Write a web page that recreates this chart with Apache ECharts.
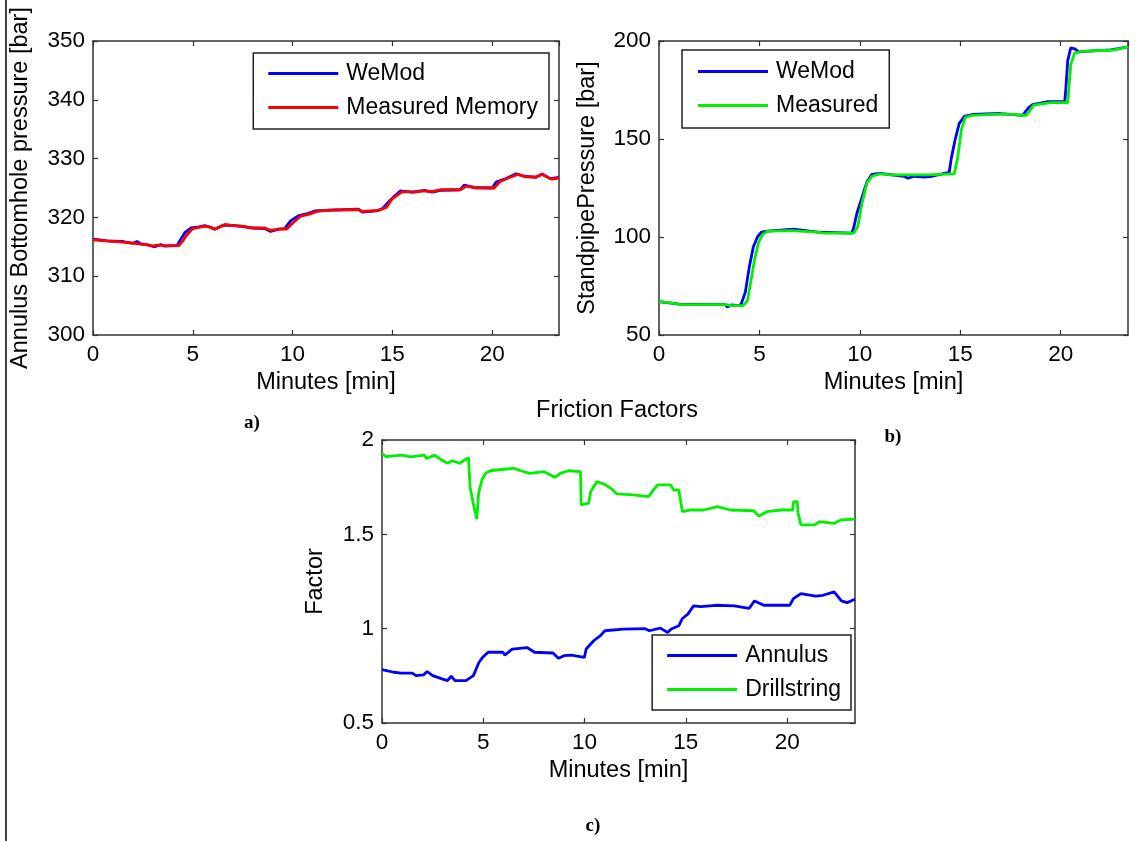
<!DOCTYPE html>
<html><head><meta charset="utf-8">
<script src="https://cdn.jsdelivr.net/npm/echarts@6/dist/echarts.min.js"></script>
<style>html,body{margin:0;padding:0;background:#fff}#c{width:1138px;height:841px}</style>
</head><body><div id="c"></div>
<script>
// ---------- data ([minutes, value]) ----------
const aWeMod = [[0,316.3],[0.7,316.0],[1.5,315.9],[2.0,315.6],[2.2,315.9],[2.4,315.5],[2.8,315.3],[3.1,315.0],[3.4,315.4],[3.6,315.1],[4.2,315.2],[4.4,316.3],[4.6,317.4],[4.9,318.2],[5.3,318.4],[5.6,318.6],[5.9,318.3],[6.1,318.0],[6.4,318.5],[6.7,318.7],[7.1,318.6],[7.6,318.4],[8.0,318.2],[8.6,318.1],[8.9,317.6],[9.3,318.0],[9.6,318.1],[9.9,319.4],[10.3,320.3],[10.8,320.7],[11.1,321.1],[11.6,321.2],[12.5,321.3],[13.3,321.4],[13.5,320.9],[14.2,321.1],[14.5,321.5],[14.8,322.6],[15.1,323.6],[15.4,324.5],[16.0,324.3],[16.6,324.6],[17.0,324.3],[17.4,324.6],[18.4,324.7],[18.6,325.5],[19.1,325.1],[20.0,325.0],[20.2,326.0],[20.7,326.6],[21.2,327.4],[21.6,327.0],[22.2,326.8],[22.5,327.4],[22.9,326.6],[23.35,326.8]];
const aMeasured = [[0,316.2],[0.7,316.0],[1.5,315.8],[2.1,315.6],[2.8,315.3],[3.0,315.1],[3.2,315.3],[3.6,315.2],[4.3,315.2],[4.5,316.0],[4.7,317.0],[5.0,318.1],[5.3,318.3],[5.6,318.5],[5.8,318.4],[6.1,318.0],[6.3,318.3],[6.6,318.8],[7.0,318.6],[7.5,318.5],[7.9,318.2],[8.6,318.2],[8.9,317.8],[9.3,318.0],[9.7,318.0],[10.0,319.0],[10.4,320.2],[10.9,320.6],[11.2,321.0],[11.6,321.2],[12.5,321.3],[13.3,321.3],[13.5,321.0],[14.3,321.2],[14.7,321.7],[15.0,323.2],[15.5,324.4],[16.1,324.3],[16.6,324.5],[17.0,324.4],[17.4,324.7],[18.4,324.7],[18.7,325.3],[19.2,325.0],[20.1,325.0],[20.4,326.1],[20.8,326.7],[21.3,327.3],[21.7,326.9],[22.2,326.9],[22.5,327.3],[23.0,326.5],[23.35,326.7]];

const bWeMod = [[0,67.0],[1.0,65.8],[3.3,65.5],[3.4,64.3],[3.6,65.3],[4.0,65.0],[4.1,66.0],[4.3,72.0],[4.5,85.0],[4.7,95.0],[4.9,100.0],[5.1,102.5],[5.4,103.0],[6.7,104.0],[7.9,102.5],[9.6,102.0],[9.7,105.0],[9.85,112.0],[10.1,120.0],[10.35,128.0],[10.6,132.0],[11.0,132.5],[12.2,131.0],[12.4,130.0],[12.7,131.0],[13.2,130.5],[13.6,131.0],[14.2,132.5],[14.45,133.0],[14.55,140.0],[14.75,150.0],[14.95,158.0],[15.2,161.5],[15.6,162.5],[17.0,163.0],[18.1,162.0],[18.4,166.0],[18.6,167.5],[19.3,169.0],[20.2,169.0],[20.25,175.0],[20.35,190.0],[20.5,196.5],[20.7,196.0],[20.9,194.5],[21.6,195.0],[22.5,195.5],[23.35,197.0]];
const bMeasured = [[0,67.0],[0.5,66.5],[1.1,65.5],[3.3,65.5],[3.6,65.0],[4.2,65.0],[4.4,67.5],[4.55,76.0],[4.75,88.0],[4.95,97.0],[5.15,101.2],[5.4,103.0],[6.6,103.3],[7.0,103.0],[7.9,102.5],[8.2,102.0],[9.7,102.0],[9.9,105.5],[10.1,117.0],[10.35,127.5],[10.6,131.0],[11.0,132.2],[11.6,131.7],[13.4,131.7],[14.0,132.0],[14.7,132.2],[14.88,141.0],[15.05,154.5],[15.25,161.0],[15.6,162.1],[17.1,162.8],[18.3,162.1],[18.65,167.3],[19.5,168.6],[20.35,168.6],[20.5,188.0],[20.7,194.0],[21.1,194.7],[22.6,195.4],[23.35,197.0]];

const cAnnulus = [[0,0.783],[0.58,0.769],[0.95,0.764],[1.5,0.764],[1.68,0.751],[2.05,0.755],[2.23,0.773],[2.5,0.751],[2.96,0.734],[3.23,0.725],[3.42,0.748],[3.6,0.725],[4.15,0.725],[4.51,0.751],[4.79,0.822],[4.97,0.848],[5.24,0.875],[5.97,0.875],[6.06,0.86],[6.43,0.892],[7.16,0.9],[7.53,0.875],[8.44,0.871],[8.71,0.843],[8.99,0.857],[9.35,0.86],[9.99,0.848],[10.08,0.892],[10.45,0.936],[10.81,0.966],[11.0,0.989],[11.91,0.998],[13.0,1.0],[13.19,0.989],[13.74,1.003],[14.1,0.98],[14.28,0.998],[14.65,1.015],[14.83,1.054],[15.1,1.077],[15.38,1.121],[15.74,1.117],[16.47,1.124],[17.39,1.121],[18.12,1.107],[18.39,1.147],[18.85,1.124],[20.13,1.124],[20.31,1.159],[20.68,1.186],[21.4,1.173],[21.77,1.177],[22.32,1.195],[22.68,1.147],[22.96,1.138],[23.35,1.156]];
const cDrill = [[0,1.93],[0.2,1.912],[1.0,1.92],[1.4,1.91],[2.1,1.92],[2.2,1.902],[2.6,1.92],[2.9,1.897],[3.25,1.876],[3.45,1.89],[3.85,1.876],[4.1,1.897],[4.27,1.905],[4.35,1.75],[4.52,1.656],[4.68,1.58],[4.77,1.717],[4.93,1.788],[5.1,1.823],[5.35,1.837],[6.0,1.845],[6.5,1.85],[6.85,1.837],[7.3,1.823],[8.0,1.832],[8.55,1.802],[8.8,1.823],[9.2,1.837],[9.8,1.832],[9.83,1.656],[10.2,1.665],[10.3,1.726],[10.6,1.779],[10.95,1.767],[11.3,1.744],[11.6,1.714],[12.4,1.709],[13.15,1.70],[13.6,1.762],[14.25,1.762],[14.4,1.735],[14.65,1.735],[14.83,1.62],[15.25,1.629],[15.9,1.629],[16.55,1.647],[17.2,1.629],[18.35,1.625],[18.6,1.597],[19.0,1.62],[19.7,1.629],[20.27,1.629],[20.32,1.673],[20.5,1.673],[20.54,1.611],[20.68,1.55],[21.35,1.55],[21.6,1.567],[22.3,1.558],[22.65,1.576],[23.35,1.581]];

const xRange = [0, 23.35, 5];
const aRange = [300, 350, 10];
const bRange = [50, 200, 50];
const cRange = [0.5, 2, 0.5];
const xName = 'Minutes [min]';
const yNames = ['Annulus Bottomhole pressure [bar]', 'StandpipePressure [bar]', 'Factor'];
const legendNames = [['WeMod','Measured Memory'], ['WeMod','Measured'], ['Annulus','Drillstring']];
const title = 'Friction Factors';
const subLabels = ['a)', 'b)', 'c)'];

// ---------- styling ----------
const FONT = '"Liberation Sans", Arial, sans-serif';
const AX = '#333';
const BLUE = '#0000ff', RED = '#ff0000', GREEN = '#00f000';
const TICK_FS = 22.5, NAME_FS = 23.5, LEG_FS = 23;

function xAxes(gi) {
  const base = {type:'value', gridIndex:gi, min:xRange[0], max:xRange[1], interval:xRange[2],
    splitLine:{show:false},
    axisLine:{show:true, onZero:false, lineStyle:{color:AX, width:1.5}},
    axisTick:{show:true, inside:true, length:5, lineStyle:{color:AX, width:1.2}}};
  return [
    Object.assign({}, base, {position:'bottom',
      axisLabel:{color:'#000', fontSize:TICK_FS, fontFamily:FONT, margin:8, showMaxLabel:false},
      name:xName, nameLocation:'middle', nameGap:36,
      nameTextStyle:{color:'#000', fontSize:NAME_FS, fontFamily:FONT}}),
    Object.assign({}, base, {position:'top', axisLabel:{show:false}})
  ];
}
function yAxes(gi, r, name, gap) {
  const base = {type:'value', gridIndex:gi, min:r[0], max:r[1], interval:r[2],
    splitLine:{show:false},
    axisLine:{show:true, onZero:false, lineStyle:{color:AX, width:1.5}},
    axisTick:{show:true, inside:true, length:5, lineStyle:{color:AX, width:1.2}}};
  return [
    Object.assign({}, base, {position:'left',
      axisLabel:{color:'#000', fontSize:TICK_FS, fontFamily:FONT, margin:8},
      name:name, nameLocation:'middle', nameGap:gap,
      nameTextStyle:{color:'#000', fontSize:NAME_FS, fontFamily:FONT}}),
    Object.assign({}, base, {position:'right', axisLabel:{show:false}})
  ];
}
function line(name, data, xi, yi, color, z) {
  return {type:'line', name:name, data:data, xAxisIndex:xi, yAxisIndex:yi,
    showSymbol:false, symbol:'none', z:z||2,
    lineStyle:{color:color, width:2.8}, itemStyle:{color:color}, animation:false};
}
function legend(names, pos) {
  return Object.assign({data:names, orient:'vertical', icon:'rect', itemWidth:70, itemHeight:3,
    itemGap:11, selectedMode:false, backgroundColor:'#fff', borderColor:'#222', borderWidth:1.5,
    textStyle:{color:'#000', fontSize:LEG_FS, fontFamily:FONT, lineHeight:23, padding:[0,0,0,3]}}, pos);
}

const chart = echarts.init(document.getElementById('c'), null, {renderer:'canvas'});
chart.setOption({
  backgroundColor:'#fff',
  animation:false,
  grid:[
    {left:93, top:41, width:466, height:294},
    {left:659, top:41, width:469, height:294},
    {left:382, top:440, width:473, height:283}
  ],
  xAxis:[].concat(xAxes(0), xAxes(1), xAxes(2)),
  yAxis:[].concat(yAxes(0, aRange, yNames[0], 60), yAxes(1, bRange, yNames[1], 59), yAxes(2, cRange, yNames[2], 54)),
  legend:[
    legend(legendNames[0], {right:589, top:53, padding:[9,11,10,15]}),
    legend(legendNames[1], {left:682, top:50, padding:[10,11,11,16]}),
    legend(legendNames[2], {right:287, top:635, padding:[9,10,9,15]})
  ],
  series:[
    line('WeMod', aWeMod, 0, 0, BLUE, 2),
    line('Measured Memory', aMeasured, 0, 0, RED, 3),
    line('WeMod', bWeMod, 2, 2, BLUE, 2),
    line('Measured', bMeasured, 2, 2, GREEN, 3),
    line('Annulus', cAnnulus, 4, 4, BLUE, 2),
    line('Drillstring', cDrill, 4, 4, GREEN, 2)
  ],
  graphic:[
    {type:'text', x:617, y:411, style:{text:title, font:NAME_FS + 'px ' + FONT, fill:'#000', align:'center', verticalAlign:'middle'}},
    {type:'text', x:252, y:423, style:{text:subLabels[0], font:'bold 19px "Liberation Serif", serif', fill:'#000', align:'center', verticalAlign:'middle'}},
    {type:'text', x:893, y:437, style:{text:subLabels[1], font:'bold 19px "Liberation Serif", serif', fill:'#000', align:'center', verticalAlign:'middle'}},
    {type:'text', x:593, y:826, style:{text:subLabels[2], font:'bold 19px "Liberation Serif", serif', fill:'#000', align:'center', verticalAlign:'middle'}},
    {type:'line', shape:{x1:6, y1:0, x2:6, y2:841}, style:{stroke:'#000', lineWidth:1.5}}
  ]
});
</script>
</body></html>
